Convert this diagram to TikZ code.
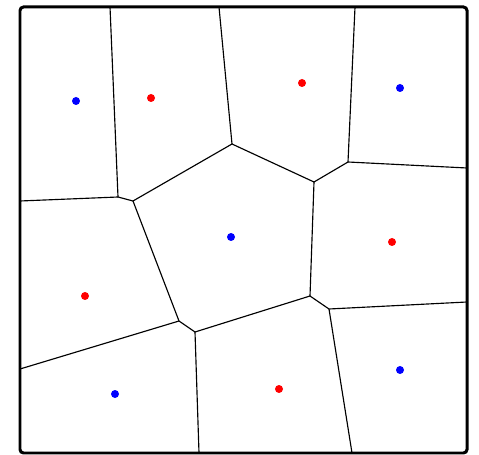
\documentclass[tikz,border=0pt]{standalone}
\usepackage{tikz}

\begin{document}
\begin{tikzpicture}[x=0.02cm,y=-0.02cm,
  edge/.style={line width=0.65pt,black},
  site/.style={circle,inner sep=0pt,minimum size=0.16cm},
  bsite/.style={site,fill=blue},
  rsite/.style={site,fill=red}]
  \useasboundingbox (0,0) rectangle (479,455);
  % frame
  \draw[line width=1.7pt,rounded corners=2pt] (20,7) rectangle (467,453);
  % inner vertices
  \coordinate (b) at (118,197);
  \coordinate (c) at (133,201);
  \coordinate (d) at (232,144);
  \coordinate (k) at (314,182);
  \coordinate (j) at (348,162);
  \coordinate (h) at (310,296);
  \coordinate (l) at (329,309);
  \coordinate (f) at (179,321);
  \coordinate (g) at (195,332);
  % ends on the frame
  \coordinate (tA) at (110,7);
  \coordinate (tE) at (219,7);
  \coordinate (tI) at (355,7);
  \coordinate (lB) at (20,201);
  \coordinate (lF) at (20,369);
  \coordinate (rJ) at (467,168);
  \coordinate (rL) at (467,302);
  \coordinate (bG) at (199,453);
  \coordinate (bL) at (352,453);
  % cells
  \draw[edge] (tA) -- (b) -- (c) -- (d) -- (k) -- (j) -- (tI);
  \draw[edge] (lB) -- (b);
  \draw[edge] (tE) -- (d);
  \draw[edge] (j) -- (rJ);
  \draw[edge] (c) -- (f) -- (g) -- (h) -- (l) -- (rL);
  \draw[edge] (k) -- (h);
  \draw[edge] (lF) -- (f);
  \draw[edge] (g) -- (bG);
  \draw[edge] (l) -- (bL);
  % sites
  \node[bsite] (s1) at (76,101) {};
  \node[rsite] (s2) at (151,98) {};
  \node[rsite] (s3) at (302,83) {};
  \node[bsite] (s4) at (400,88) {};
  \node[bsite] (s5) at (231,237) {};
  \node[rsite] (s6) at (392,242) {};
  \node[rsite] (s7) at (85,296) {};
  \node[bsite] (s8) at (115,394) {};
  \node[rsite] (s9) at (279,389) {};
  \node[bsite] (s10) at (400,370) {};
\end{tikzpicture}
\end{document}
